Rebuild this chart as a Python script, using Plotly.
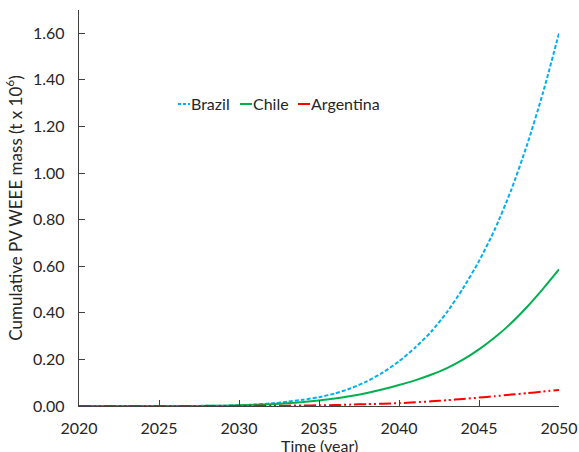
import plotly.graph_objects as go

years = list(range(2020, 2051))
brazil = [0.0, 0.0, 0.0, 0.0, 0.0, 0.0001, 0.0002, 0.0004, 0.0007, 0.0012, 0.003,
          0.006, 0.011, 0.018, 0.027, 0.038, 0.054, 0.076, 0.106, 0.144, 0.192,
          0.25, 0.318, 0.403, 0.505, 0.622, 0.76, 0.925, 1.12, 1.345, 1.60]
chile = [0.0, 0.0, 0.0, 0.0, 0.0, 0.0001, 0.0002, 0.0004, 0.0007, 0.0012, 0.003,
         0.005, 0.008, 0.012, 0.017, 0.024, 0.032, 0.043, 0.056, 0.072, 0.09,
         0.11, 0.134, 0.163, 0.199, 0.243, 0.295, 0.355, 0.425, 0.503, 0.586]
argentina = [0.0, 0.0, 0.0, 0.0, 0.0, 0.0, 0.0, 0.0001, 0.0002, 0.0003, 0.0005,
             0.0008, 0.001, 0.0015, 0.002, 0.003, 0.004, 0.006, 0.008, 0.010, 0.012,
             0.016, 0.020, 0.025, 0.030, 0.036, 0.042, 0.049, 0.055, 0.062, 0.069]

names = ["Brazil", "Chile", "Argentina"]
colors = ["#00B0F0", "#00B050", "#FF0000"]
dashes = ["4px,2px", "solid", "12px,3px,2px,3px,2px,3px"]
series = [brazil, chile, argentina]

x_ticks = [2020, 2025, 2030, 2035, 2040, 2045, 2050]
y_ticks = [0.0, 0.2, 0.4, 0.6, 0.8, 1.0, 1.2, 1.4, 1.6]
y_ticktext = ["%.2f" % v for v in y_ticks]

FONT = "Lato, 'Open Sans', sans-serif"
FS = 16

fig = go.Figure()
for name, vals, col, d in zip(names, series, colors, dashes):
    fig.add_trace(go.Scatter(x=years, y=vals, mode="lines", name=name,
                             line=dict(color=col, width=2, dash=d, shape="spline",
                                       smoothing=0.6),
                             showlegend=False))

# compact legend (short line samples like the reference)
leg_y = (406 - 104) / 396
leg_items = [(178, 190, 191), (240, 252, 253), (298, 310, 311)]
for (x0, x1, xt), name, col in zip(leg_items, names, colors):
    fig.add_shape(type="line", xref="paper", yref="paper",
                  x0=(x0 - 79) / 480, x1=(x1 - 79) / 480, y0=leg_y, y1=leg_y,
                  line=dict(color=col, width=2, dash="3px,2px" if name == "Brazil" else "solid"))
    fig.add_annotation(xref="paper", yref="paper", x=(xt - 79) / 480, y=leg_y,
                       text=name, showarrow=False, xanchor="left", yanchor="middle",
                       xshift=-2, font=dict(family=FONT, size=FS, color="#262626"))

# x-axis title placed like the reference (partly below the page edge)
fig.add_annotation(xref="paper", yref="paper", x=0.5, y=(406 - 434) / 396,
                   text="Time (year)", showarrow=False, xanchor="center", yanchor="top",
                   font=dict(family=FONT, size=FS, color="#262626"))

fig.update_layout(
    width=579, height=452,
    margin=dict(l=79, r=20, t=10, b=46, autoexpand=False),
    paper_bgcolor="white", plot_bgcolor="white",
    font=dict(family=FONT, size=FS, color="#262626"),
    xaxis=dict(range=[2020, 2050], tickvals=x_ticks, ticks="inside", ticklen=6,
               tickcolor="#404040", showline=True, linecolor="#404040", linewidth=1.3,
               showgrid=False, zeroline=False, ticklabelstandoff=8, automargin=False),
    yaxis=dict(range=[0, 1.7], tickvals=y_ticks, ticktext=y_ticktext, ticks="inside",
               ticklen=6, tickcolor="#404040", showline=True, linecolor="#404040",
               linewidth=1.3, showgrid=False, zeroline=False, ticklabelstandoff=10,
               automargin=False,
               title=dict(text="Cumulative PV WEEE mass (t x 10<sup>6</sup>)", standoff=6,
                          font=dict(family=FONT, size=17))),
)

fig.write_html("out.html", config={"displayModeBar": False},
               post_script="document.body.style.margin='0';document.body.style.overflow='hidden';")
